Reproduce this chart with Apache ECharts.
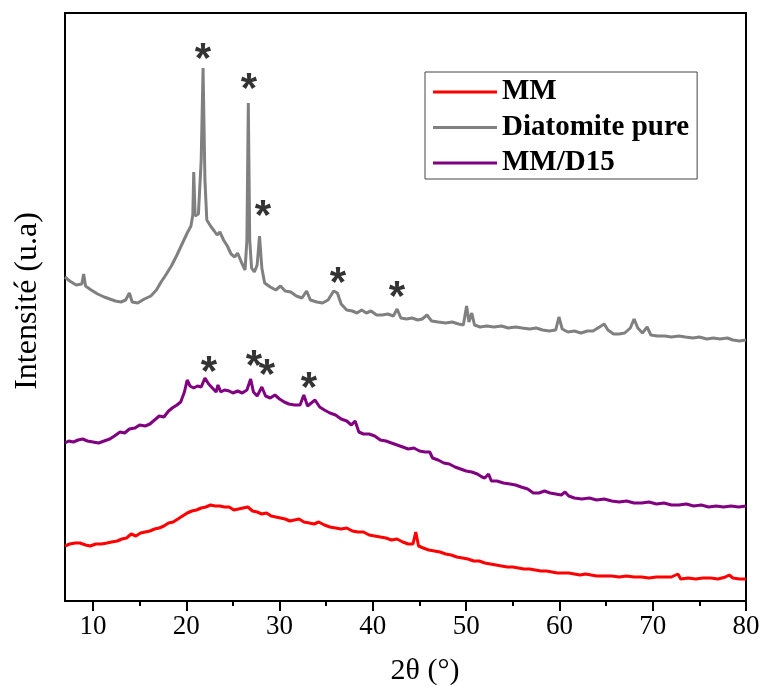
<!DOCTYPE html>
<html>
<head>
<meta charset="utf-8">
<script src="https://cdn.jsdelivr.net/npm/echarts@6/dist/echarts.min.js"></script>
<style>
  html, body { margin: 0; padding: 0; background: #fff; }
  #chart { width: 764px; height: 687px; }
</style>
</head>
<body>
<div id="chart"></div>
<script>
// XRD patterns, [2θ (°), intensity (arbitrary, stacked offsets)]
const mmPattern = [
  [7.0,55],[7.5,57],[8.1,58],[8.6,58],[9.2,56],[9.7,55],[10.3,57],[10.9,57],[11.5,58],[12.0,59],
  [12.6,60],[13.1,62],[13.6,63],[14.1,67],[14.6,65],[15.1,68],[15.6,69],[16.1,70],[16.6,72],[17.1,73],
  [17.6,75],[18.1,78],[18.6,79],[19.1,82],[19.6,85],[20.1,88],[20.6,90],[21.1,91],[21.6,93],[22.1,94],
  [22.6,96],[23.1,95],[23.6,95],[24.1,94],[24.6,94],[25.1,91],[25.6,92],[26.1,93],[26.6,94],[27.1,90],
  [27.6,89],[28.1,87],[28.6,88],[29.1,85],[29.6,84],[30.1,83],[30.6,82],[31.1,80],[31.6,81],[32.1,82],
  [32.6,79],[33.2,78],[33.7,77],[34.2,79],[34.8,76],[35.4,74],[36.0,73],[36.6,72],[37.2,73],[37.8,70],
  [38.4,69],[39.0,69],[39.6,66],[40.2,65],[40.8,64],[41.4,63],[42.0,61],[42.6,62],[43.2,59],[43.8,57],
  [44.3,57],[44.6,69],[44.9,55],[45.4,53],[46.0,51],[46.6,50],[47.2,49],[47.8,47],[48.4,46],[49.0,44],
  [49.6,43],[50.2,42],[50.8,40],[51.4,40],[52.0,38],[52.6,37],[53.2,36],[53.8,35],[54.4,34],[55.0,34],
  [55.6,33],[56.2,32],[56.8,32],[57.4,31],[58.0,30],[58.6,30],[59.2,29],[59.8,28],[60.4,28],[61.0,28],
  [61.6,27],[62.2,26],[62.8,27],[63.4,26],[64.0,25],[64.8,25],[65.6,25],[66.4,24],[67.2,25],[68.0,24],
  [68.8,24],[69.6,23],[70.4,24],[71.2,24],[72.0,24],[72.7,27],[73.0,22],[73.8,23],[74.6,22],[75.4,23],
  [76.2,23],[77.0,22],[77.8,24],[78.2,26],[78.6,23],[79.3,22],[80.0,22]
];

const diatomitePattern = [
  [7.0,324],[7.5,320],[8.2,316],[8.8,317],[9.0,327],[9.2,315],[9.8,311],[10.5,307],[11.2,304],[11.8,302],
  [12.4,300],[13.0,299],[13.5,301],[13.9,308],[14.2,299],[14.8,298],[15.5,302],[16.2,305],[16.8,311],[17.3,319],
  [17.8,326],[18.4,335],[19.0,346],[19.6,358],[20.1,368],[20.5,375],[20.7,386],[20.8,429],[20.95,385],[21.3,387],
  [21.6,441],[21.8,533],[22.0,421],[22.2,381],[22.6,375],[23.0,370],[23.3,366],[23.6,369],[24.0,361],[24.4,355],
  [24.8,347],[25.2,344],[25.5,348],[25.9,339],[26.3,331],[26.5,361],[26.65,498],[26.8,361],[27.0,333],[27.3,329],
  [27.6,336],[27.85,365],[28.1,333],[28.4,318],[29.0,314],[29.6,311],[30.1,315],[30.6,310],[31.2,309],[31.8,305],
  [32.4,303],[32.9,310],[33.3,301],[34.0,299],[34.6,298],[35.2,301],[35.8,310],[36.2,308],[36.6,297],[37.2,291],
  [37.8,290],[38.3,288],[38.8,291],[39.3,288],[39.8,290],[40.4,286],[41.0,286],[41.6,287],[42.2,285],[42.6,292],
  [43.0,283],[43.6,282],[44.2,283],[44.8,281],[45.3,282],[45.8,286],[46.3,280],[47.0,279],[47.8,278],[48.5,279],
  [49.2,277],[49.7,276],[50.05,295],[50.3,279],[50.6,288],[50.9,276],[51.5,274],[52.2,275],[53.0,274],[53.8,275],
  [54.5,273],[55.3,274],[56.0,273],[56.8,272],[57.5,273],[58.2,271],[58.9,270],[59.6,271],[59.95,284],[60.3,272],
  [60.9,269],[61.6,270],[62.3,268],[63.0,270],[63.6,270],[64.3,274],[64.8,277],[65.2,271],[65.8,267],[66.4,267],
  [67.0,268],[67.6,273],[68.0,282],[68.4,273],[68.9,268],[69.4,274],[69.8,266],[70.5,265],[71.3,265],[72.0,264],
  [72.8,265],[73.5,264],[74.3,263],[75.0,264],[75.8,262],[76.5,263],[77.2,262],[78.0,263],[78.6,261],[79.3,260],
  [80.0,261]
];

const mmD15Pattern = [
  [7.0,158],[7.4,160],[7.9,159],[8.4,161],[8.9,162],[9.4,160],[10.0,159],[10.6,158],[11.2,160],[11.8,162],
  [12.3,165],[12.9,169],[13.4,168],[13.9,172],[14.5,173],[15.0,176],[15.6,175],[16.1,177],[16.6,181],[17.1,185],
  [17.6,184],[18.1,190],[18.5,193],[19.0,196],[19.4,199],[19.8,209],[20.1,221],[20.4,215],[20.8,213],[21.2,215],
  [21.6,214],[22.0,223],[22.4,217],[22.8,213],[23.2,209],[23.4,216],[23.7,209],[24.1,211],[24.6,210],[25.0,208],
  [25.5,210],[26.0,208],[26.5,211],[26.9,222],[27.2,209],[27.6,205],[28.1,214],[28.5,205],[29.0,203],[29.5,206],
  [30.0,202],[30.5,199],[31.0,197],[31.6,196],[32.2,196],[32.6,206],[33.0,195],[33.4,198],[33.8,201],[34.3,194],
  [34.8,191],[35.4,188],[36.0,186],[36.6,182],[37.2,180],[37.7,176],[38.1,180],[38.5,169],[39.0,167],[39.6,167],
  [40.2,165],[40.8,161],[41.4,160],[42.0,158],[42.6,156],[43.2,154],[43.8,152],[44.4,153],[45.0,150],[45.6,149],
  [46.1,149],[46.4,143],[47.0,141],[47.6,138],[48.2,137],[48.8,134],[49.4,132],[50.0,130],[50.6,129],[51.2,127],
  [51.7,124],[52.0,123],[52.4,127],[52.7,120],[53.3,120],[54.0,118],[54.7,117],[55.3,116],[55.9,114],[56.6,112],
  [57.2,108],[57.8,108],[58.4,110],[59.0,108],[59.6,107],[60.2,106],[60.6,109],[61.0,105],[61.6,103],[62.4,102],
  [63.2,103],[64.0,101],[64.8,102],[65.6,100],[66.4,99],[67.2,100],[68.0,98],[68.8,98],[69.6,99],[70.4,97],
  [71.2,98],[72.0,96],[72.8,96],[73.6,97],[74.4,95],[75.2,96],[76.0,94],[76.8,95],[77.6,94],[78.4,95],
  [79.2,94],[80.0,95]
];

// Reflections flagged with an asterisk
const diatomiteMarks = [[21.79,551],[26.72,521],[28.22,394],[36.26,327],[42.59,313]];
const mmD15Marks = [[22.44,238],[27.26,244],[28.65,235],[33.16,222]];

const majorTicks = [10, 20, 30, 40, 50, 60, 70, 80];
const minorTicks = [15, 25, 35, 45, 55, 65, 75];

const seriesNames = ['MM', 'Diatomite pure', 'MM/D15'];
const seriesColors = ['#ff0000', '#808080', '#800080'];

const serif = '"Liberation Serif", "Times New Roman", serif';

const chart = echarts.init(document.getElementById('chart'), null, { renderer: 'canvas' });

function lineSeries(name, color, data) {
  return {
    name: name,
    type: 'line',
    data: data,
    showSymbol: false,
    symbol: 'none',
    lineStyle: { color: color, width: 3 },
    itemStyle: { color: color },
    silent: true,
    animation: false
  };
}

function markSeries(data) {
  return {
    type: 'scatter',
    data: data,
    symbolSize: 1,
    itemStyle: { color: 'rgba(0,0,0,0)' },
    silent: true,
    animation: false,
    label: {
      show: true,
      position: 'inside',
      formatter: '*',
      fontFamily: '"Liberation Sans", Arial, sans-serif',
      fontWeight: 'bold',
      fontSize: 42,
      color: '#000',
      offset: [0, 10]
    }
  };
}

chart.setOption({
  animation: false,
  backgroundColor: '#fff',
  grid: {
    left: 65, right: 18, top: 13, bottom: 86,
    show: true,
    borderColor: '#000',
    borderWidth: 2,
    backgroundColor: 'transparent'
  },
  legend: {
    data: seriesNames,
    orient: 'vertical',
    left: 425,
    top: 72,
    icon: 'rect',
    itemWidth: 64,
    itemHeight: 3,
    itemGap: 5.5,
    padding: [5, 8, 1, 8],
    borderColor: '#444',
    borderWidth: 1,
    backgroundColor: '#fff',
    selectedMode: false,
    textStyle: {
      fontFamily: serif,
      fontWeight: 'bold',
      fontSize: 29,
      lineHeight: 30,
      color: '#000'
    }
  },
  xAxis: [
    {
      type: 'value',
      min: 7,
      max: 80,
      axisLine: { show: true, onZero: false, lineStyle: { color: '#000', width: 2 } },
      axisTick: { show: true, customValues: majorTicks, length: 10, lineStyle: { color: '#000', width: 2 } },
      axisLabel: { show: true, customValues: majorTicks, margin: 12, fontFamily: serif, fontSize: 27, color: '#000' },
      splitLine: { show: false }
    },
    {
      type: 'value',
      min: 7,
      max: 80,
      position: 'bottom',
      axisLine: { show: false },
      axisTick: { show: true, customValues: minorTicks, length: 5, lineStyle: { color: '#000', width: 2 } },
      axisLabel: { show: false },
      splitLine: { show: false }
    }
  ],
  yAxis: {
    type: 'value',
    min: 0,
    max: 588,
    axisLine: { show: true, lineStyle: { color: '#000', width: 2 } },
    axisTick: { show: false },
    axisLabel: { show: false },
    splitLine: { show: false }
  },
  graphic: [
    {
      type: 'text',
      x: 425, y: 671,
      style: {
        text: '2θ (°)',
        font: '30px ' + serif,
        fill: '#000',
        align: 'center',
        verticalAlign: 'middle'
      }
    },
    {
      type: 'text',
      x: 28, y: 301,
      rotation: Math.PI / 2,
      style: {
        text: 'Intensité (u.a)',
        font: '32px ' + serif,
        fill: '#000',
        align: 'center',
        verticalAlign: 'middle'
      }
    }
  ],
  series: [
    lineSeries(seriesNames[0], seriesColors[0], mmPattern),
    lineSeries(seriesNames[1], seriesColors[1], diatomitePattern),
    lineSeries(seriesNames[2], seriesColors[2], mmD15Pattern),
    markSeries(diatomiteMarks),
    markSeries(mmD15Marks)
  ]
});
</script>
</body>
</html>
